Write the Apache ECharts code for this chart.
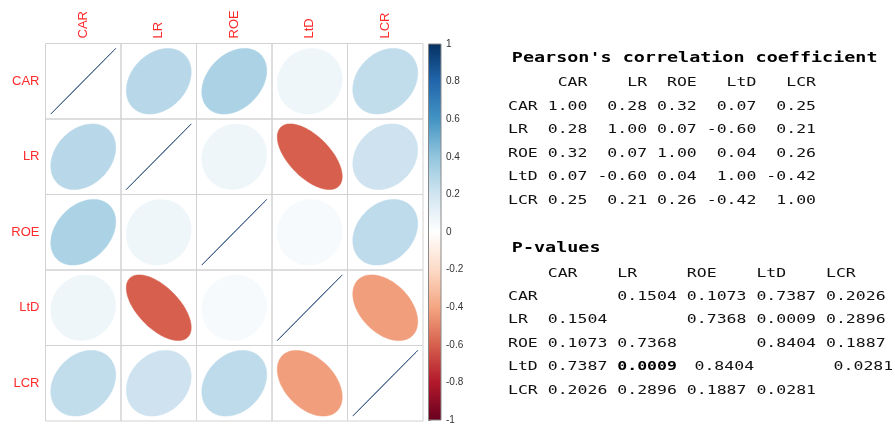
<!DOCTYPE html>
<html>
<head>
<meta charset="utf-8">
<script src="https://cdn.jsdelivr.net/npm/echarts@6/dist/echarts.min.js"></script>
<style>html,body{margin:0;padding:0;background:#fff;}#c{width:895px;height:425px;}</style>
</head>
<body>
<div id="c"></div>
<script>
// ---- data ----
const categories = ['CAR', 'LR', 'ROE', 'LtD', 'LCR'];
const corr = [
  [1.00, 0.28, 0.32, 0.07, 0.25],
  [0.28, 1.00, 0.07, -0.60, 0.21],
  [0.32, 0.07, 1.00, 0.04, 0.26],
  [0.07, -0.60, 0.04, 1.00, -0.42],
  [0.25, 0.21, 0.26, -0.42, 1.00]
];
const pvals = [
  [null, 0.1504, 0.1073, 0.7387, 0.2026],
  [0.1504, null, 0.7368, 0.0009, 0.2896],
  [0.1073, 0.7368, null, 0.8404, 0.1887],
  [0.7387, 0.0009, 0.8404, null, 0.0281],
  [0.2026, 0.2896, 0.1887, 0.0281, null]
];
const boldCells = [[3, 1]]; // [row, col] shown in bold in the P-value table
const colorbarMin = -1, colorbarMax = 1, colorbarInterval = 0.2;
const corrTitle = "Pearson's correlation coefficient";
const pTitle = 'P-values';

// ---- colours (RdBu, corrplot COL2) ----
const RDBU = ['#67001F','#B2182B','#D6604D','#F4A582','#FDDBC7','#FFFFFF','#D1E5F0','#92C5DE','#4393C3','#2166AC','#053061'];
function hex2rgb(h){ return [parseInt(h.slice(1,3),16), parseInt(h.slice(3,5),16), parseInt(h.slice(5,7),16)]; }
function colorFor(v){
  const t = (v + 1) / 2 * (RDBU.length - 1);
  const i = Math.max(0, Math.min(Math.floor(t), RDBU.length - 2));
  const f = t - i;
  const a = hex2rgb(RDBU[i]), b = hex2rgb(RDBU[i + 1]);
  return 'rgb(' + a.map((x, k) => Math.round(x + (b[k] - x) * f)).join(',') + ')';
}

// ---- cell data ----
const cellData = [];
for (let i = 0; i < categories.length; i++)
  for (let j = 0; j < categories.length; j++)
    cellData.push([j, i, corr[i][j]]);

// ---- text tables ----
const fmtC = v => v.toFixed(2);
const fmtP = v => (v == null ? '' : v.toFixed(4));
const corrLines = [];
{
  const widths = categories.map((h, j) => Math.max(h.length, ...corr.map(r => fmtC(r[j]).length)));
  let head = '   ';
  categories.forEach((h, j) => { head += ' ' + h.padStart(widths[j]); });
  corrLines.push(head);
  corr.forEach((row, i) => {
    let s = categories[i].padEnd(3);
    row.forEach((v, j) => { s += ' ' + fmtC(v).padStart(widths[j]); });
    corrLines.push(s);
  });
}
const pLines = [];
{
  let head = '   ';
  categories.forEach(h => { head += ' ' + h.padEnd(6); });
  pLines.push(head);
  pvals.forEach((row, i) => {
    let s = categories[i].padEnd(3);
    row.forEach((v, j) => {
      const isBold = boldCells.some(c => c[0] === i && c[1] === j);
      const txt = fmtP(v).padEnd(6);
      s += ' ' + (isBold ? '{b|' + fmtP(v) + '}' : txt);
    });
    pLines.push(s.replace(/\s+$/, ''));
  });
}

const MONO = '"DejaVu Sans Mono", monospace';
const k = 1.2695; // horizontal stretch of table text
const textEls = [];
textEls.push({ type: 'text', x: 3, y: 58.5, style: { text: corrTitle, fontFamily: MONO, fontSize: 14.5, fontWeight: 'bold', fill: '#000', verticalAlign: 'middle' } });
corrLines.forEach((ln, i) => {
  textEls.push({ type: 'text', x: 0, y: 82.7 + i * 23.6, style: { text: ln, fontFamily: MONO, fontSize: 13, fill: '#111', verticalAlign: 'middle' } });
});
textEls.push({ type: 'text', x: 3, y: 248.5, style: { text: pTitle, fontFamily: MONO, fontSize: 14.5, fontWeight: 'bold', fill: '#000', verticalAlign: 'middle' } });
pLines.forEach((ln, i) => {
  textEls.push({ type: 'text', x: 0, y: 273.3 + i * 23.4, style: {
    text: ln, fontFamily: MONO, fontSize: 13, fill: '#111', verticalAlign: 'middle',
    rich: { b: { fontFamily: MONO, fontSize: 13, fontWeight: 'bold', fill: '#000', padding: [0, 6, 0, 0] } }
  } });
});

const chart = echarts.init(document.getElementById('c'), null, { renderer: 'canvas' });
chart.setOption({
  animation: false,
  backgroundColor: '#fff',
  grid: [
    { left: 45.5, top: 43.5, width: 377.5, height: 377.5 },
    { left: 428.5, top: 44, width: 12.5, height: 377 }
  ],
  xAxis: [
    { type: 'category', data: categories, position: 'top', gridIndex: 0,
      axisLine: { show: false }, axisTick: { show: false }, splitLine: { show: false },
      axisLabel: { rotate: -90, color: '#ff2a2a', fontSize: 13, fontFamily: '"Liberation Sans", Arial', margin: 5 } },
    { type: 'value', gridIndex: 1, min: 0, max: 1, show: false }
  ],
  yAxis: [
    { type: 'category', data: categories, inverse: true, gridIndex: 0,
      axisLine: { show: false }, axisTick: { show: false }, splitLine: { show: false },
      axisLabel: { color: '#ff2a2a', fontSize: 13, fontFamily: '"Liberation Sans", Arial', margin: 6 } },
    { type: 'value', gridIndex: 1, min: colorbarMin, max: colorbarMax, interval: colorbarInterval, position: 'right',
      axisLine: { show: false }, splitLine: { show: false },
      axisTick: { show: true, length: 2, lineStyle: { color: '#555' } },
      axisLabel: { fontSize: 10, color: '#333', margin: 5, fontFamily: '"Liberation Sans", Arial' } }
  ],
  series: [
    {
      type: 'custom', xAxisIndex: 0, yAxisIndex: 0, data: cellData,
      renderItem: function (params, api) {
        const x = api.value(0), y = api.value(1), r = api.value(2);
        const c = api.coord([x, y]);
        const s = api.size([1, 1]);
        const w = s[0], h = s[1];
        const a = Math.acos(Math.max(-1, Math.min(1, r)));
        const pts = [];
        for (let n = 0; n < 100; n++) {
          const t = 2 * Math.PI * n / 99;
          pts.push([c[0] + 0.86 * w * Math.cos(t + a / 2) / 2, c[1] - 0.87 * h * Math.cos(t - a / 2) / 2]);
        }
        const col = colorFor(r);
        const diag = r >= 0.999;
        return { type: 'group', children: [
          { type: 'rect', shape: { x: c[0] - w / 2, y: c[1] - h / 2, width: w, height: h }, style: { fill: 'none', stroke: '#d2d2d2', lineWidth: 1 } },
          { type: 'polygon', shape: { points: pts }, style: { fill: col, stroke: diag ? '#3a5a86' : col, lineWidth: diag ? 1 : 0.5 } }
        ] };
      }
    },
    {
      type: 'custom', xAxisIndex: 1, yAxisIndex: 1, data: [[0, colorbarMin, colorbarMax]],
      renderItem: function (params, api) {
        const p1 = api.coord([0, api.value(2)]);
        const p2 = api.coord([1, api.value(1)]);
        const stops = RDBU.slice().reverse().map((c, i) => ({ offset: i / (RDBU.length - 1), color: c }));
        return { type: 'rect', shape: { x: p1[0], y: p1[1], width: p2[0] - p1[0], height: p2[1] - p1[1] },
          style: { fill: { type: 'linear', x: 0, y: 0, x2: 0, y2: 1, colorStops: stops }, stroke: '#888', lineWidth: 1 } };
      }
    }
  ],
  graphic: { elements: [ { type: 'group', x: 508, y: 0, scaleX: k, children: textEls } ] }
});
</script>
</body>
</html>
